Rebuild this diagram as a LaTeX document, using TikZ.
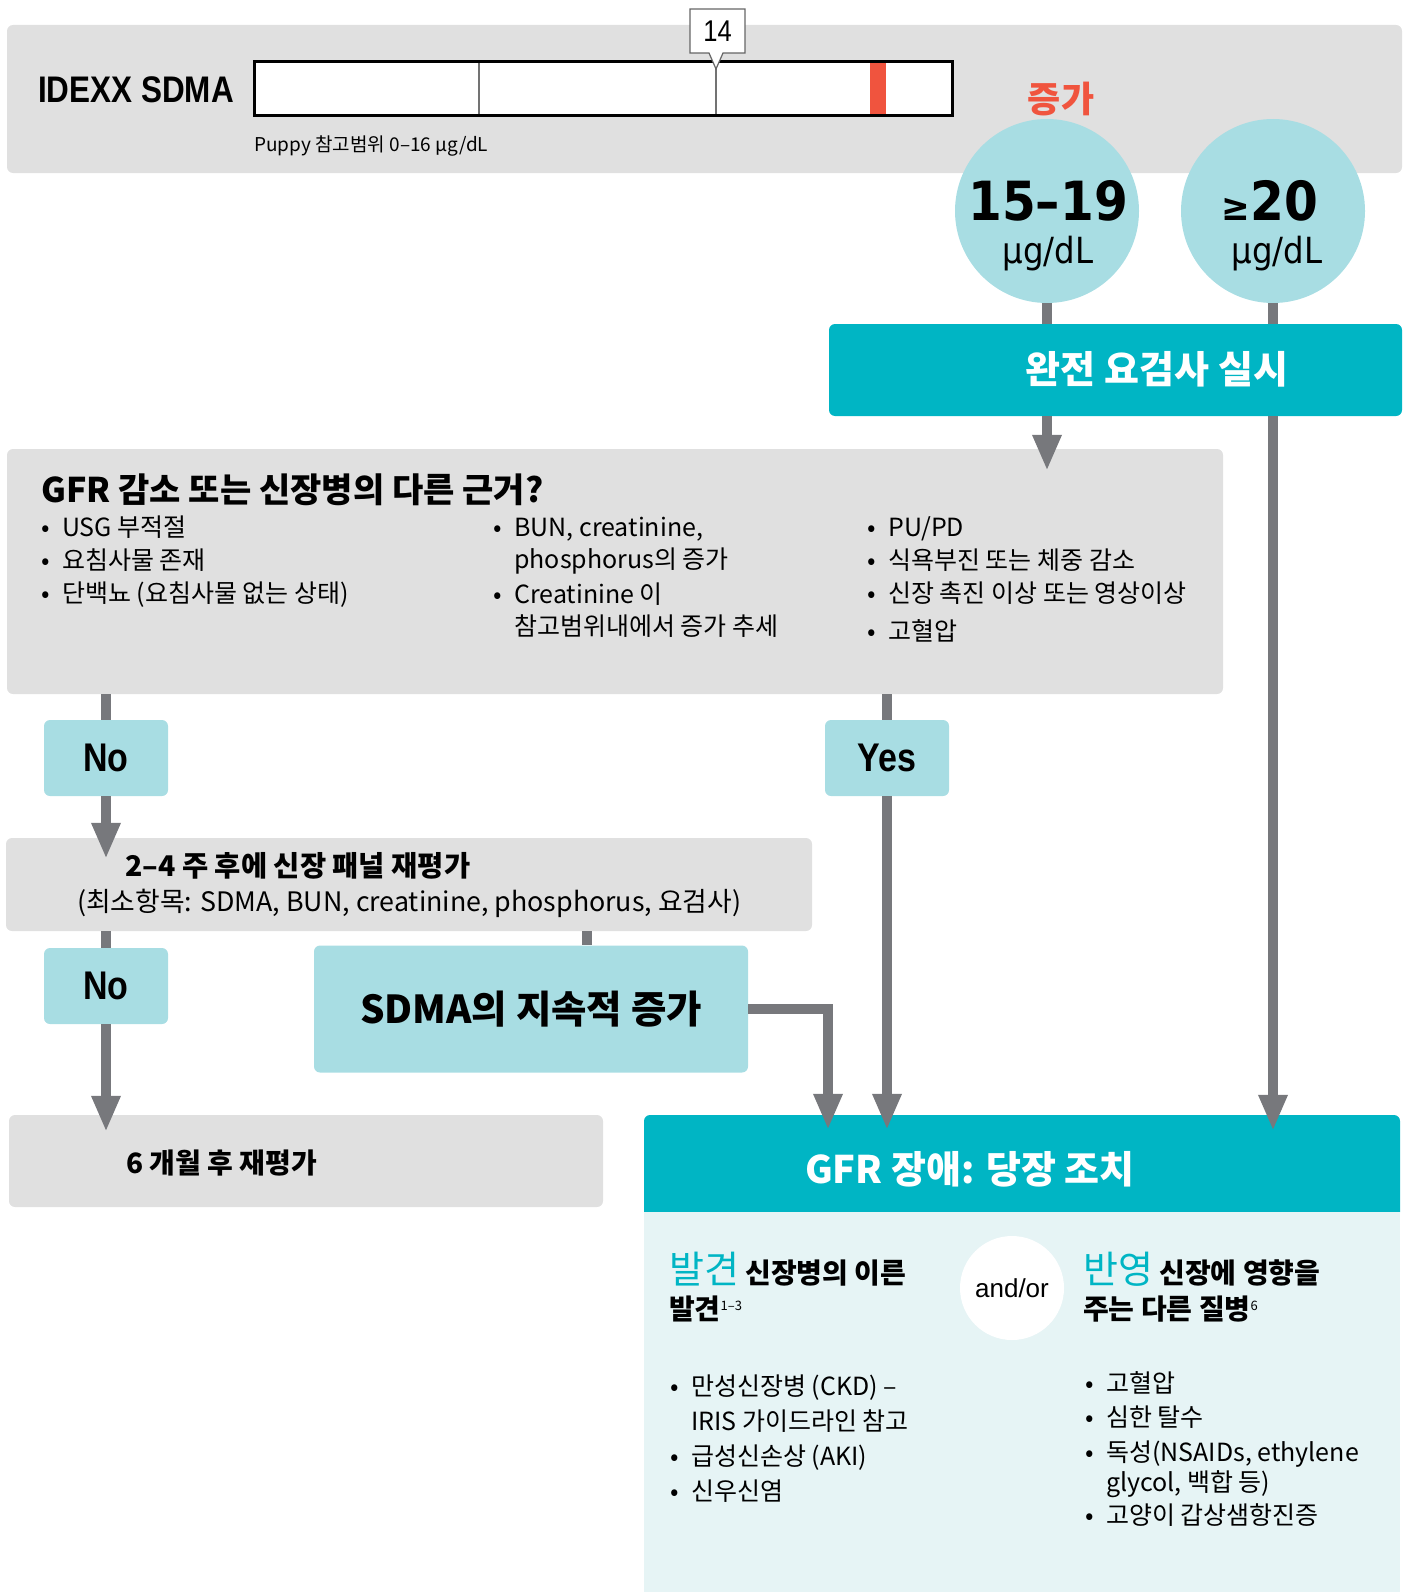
\documentclass[tikz,border=0pt]{standalone}
\usepackage{fontspec}
\setmainfont{Noto Sans CJK KR}
\newfontfamily\narrowfont{Liberation Sans}[FakeStretch=0.85]
\newfontfamily\arialfont{Liberation Sans}
\newfontfamily\verdfont{DejaVu Sans}[FakeStretch=0.9]
\usepackage{tikz}
\usetikzlibrary{arrows.meta,shapes.geometric}
\definecolor{boxgrey}{RGB}{224,224,224}
\definecolor{lblue}{RGB}{168,221,227}
\definecolor{idexxteal}{RGB}{0,181,196}
\definecolor{linegrey}{RGB}{119,120,124}
\definecolor{paleblue}{RGB}{230,244,245}
\definecolor{alertred}{RGB}{240,84,62}
\newcommand{\setfs}[2]{\fontsize{#1}{#2}\selectfont}
\newcommand{\bulitem}{\makebox[21pt][l]{•}}
\newcommand{\bulcont}{\hspace*{21pt}}
\tikzstyle{txt}=[inner sep=0pt]
\tikzstyle{greybox}=[rectangle,fill=boxgrey,rounded corners=6pt,inner sep=0pt]
\tikzstyle{bluebox}=[rectangle,fill=lblue,rounded corners=6pt,inner sep=0pt]
\tikzstyle{tealbox}=[rectangle,fill=idexxteal,rounded corners=6pt,inner sep=0pt]
\tikzstyle{answer}=[bluebox,minimum width=124pt,minimum height=76pt,font=\narrowfont\bfseries\setfs{40}{40}]
\tikzstyle{level}=[circle,fill=lblue,minimum size=184pt,inner sep=0pt]
\tikzstyle{gauge}=[rectangle,fill=white,draw=black,line width=3pt,inner sep=0pt]
\tikzstyle{body}=[inner sep=0pt,align=left,anchor=north west,font=\setfs{25}{33}]
\tikzstyle{link}=[-,draw=linegrey,line width=10pt]
\tikzstyle{flow}=[link,-{Triangle[width=27pt,length=36pt]}]
\pgfdeclarelayer{edgelayer}
\pgfdeclarelayer{nodelayer}
\pgfsetlayers{nodelayer,edgelayer,main}
\begin{document}
\begin{tikzpicture}[x=1pt,y=-1pt]
	\useasboundingbox (0,0) rectangle (1409,1592);
	\begin{pgfonlayer}{nodelayer}
		% result scale
		\node [style=greybox, minimum width=1395pt, minimum height=148pt] (bar) at (704.5,99) {};
		\node [style=txt, anchor=west, font=\narrowfont\bfseries\setfs{37}{37}] (idexx) at (38,90) {IDEXX SDMA};
		\node [style=gauge, minimum width=698pt, minimum height=54pt] (ruler) at (603,89) {};
		\fill [alertred] (870,63.5) rectangle (886,114.5);
		\draw [black!55, line width=1.5pt] (479,63.5) -- (479,114.5);
		\draw [black!55, line width=1.5pt] (716,63.5) -- (716,114.5);
		\draw [fill=white, draw=black!60, line width=1.2pt] (690,9) -- (745,9) -- (745,53) -- (723,53) -- (716,69) -- (709,53) -- (690,53) -- cycle;
		\node [style=txt, font=\narrowfont\setfs{30}{30}] (val) at (717.5,31) {14};
		\node [style=txt, anchor=west, font=\setfs{19}{19}] (range) at (254,146) {Puppy 참고범위 0–16 μg/dL};
		\node [style=txt, text=alertred, font=\bfseries\setfs{36}{36}] (rise) at (1061,99) {증가};
		\node [style=level] (c1) at (1047,211) {};
		\node [style=level] (c2) at (1273,211) {};
		\node [style=txt, anchor=base, font=\verdfont\bfseries\setfs{54}{54}] (c1val) at (1048,220) {15–19};
		\node [style=txt, anchor=base, font=\verdfont\setfs{36}{36}] (c1unit) at (1048,263) {μg/dL};
		\node [style=txt, anchor=base, font=\verdfont\bfseries\setfs{54}{54}] (c2val) at (1270,220) {{\setfs{38}{38}≥}20};
		\node [style=txt, anchor=base, font=\verdfont\setfs{36}{36}] (c2unit) at (1277,263) {μg/dL};
		\node [style=tealbox, minimum width=573pt, minimum height=92pt] (urine) at (1115.5,370) {};
		\node [style=txt, text=white, font=\bfseries\setfs{38}{38}] (urinetxt) at (1157,369) {완전 요검사 실시};
		% evidence question
		\node [style=greybox, minimum width=1216pt, minimum height=245pt] (gfrq) at (615,571.5) {};
		\node [style=txt, anchor=base west, font=\bfseries\setfs{34}{34}] (gfrtitle) at (41,502) {GFR 감소 또는 신장병의 다른 근거?};
		\node [style=body] (gfrc1) at (41,516) {\bulitem USG 부적절\\ \bulitem 요침사물 존재\\ \bulitem 단백뇨 (요침사물 없는 상태)};
		\node [style=body, font=\setfs{25}{32}] (gfrc2) at (493,517) {\bulitem BUN, creatinine,\\ \bulcont phosphorus의 증가\\[3pt] \bulitem Creatinine 이\\ \bulcont 참고범위내에서 증가 추세};
		\node [style=body] (gfrc3) at (867,516) {\bulitem PU/PD\\ \bulitem 식욕부진 또는 체중 감소\\ \bulitem 신장 촉진 이상 또는 영상이상\\[5pt] \bulitem 고혈압};
		\node [style=answer] (no1) at (106,758) {No};
		\node [style=answer] (yes) at (887,758) {Yes};
		% recheck
		\node [style=greybox, minimum width=806pt, minimum height=93pt] (recheck) at (409,884.5) {};
		\node [style=txt, anchor=base west, font=\bfseries\setfs{28.5}{28.5}] (recheck1) at (125,876) {2–4 주 후에 신장 패널 재평가};
		\node [style=txt, anchor=base west, font=\setfs{26.8}{27}] (recheck2) at (77,911) {(최소항목: SDMA, BUN, creatinine, phosphorus, 요검사)};
		\node [style=answer] (no2) at (106,986) {No};
		\node [style=bluebox, minimum width=434pt, minimum height=127pt, font=\bfseries\setfs{38.5}{38.5}] (persist) at (531,1009) {SDMA의 지속적 증가};
		\node [style=greybox, minimum width=594pt, minimum height=92pt] (sixm) at (306,1161) {};
		\node [style=txt, anchor=base west, font=\bfseries\setfs{28}{28}] (sixmtxt) at (126,1173) {6 개월 후 재평가};
		% action
		\node [style=tealbox, minimum width=756pt, minimum height=103pt] (acthead) at (1022,1166.5) {};
		\node [rectangle, fill=paleblue, minimum width=756pt, minimum height=380pt, inner sep=0pt] (actbody) at (1022,1402) {};
		\node [style=txt, anchor=base, text=white, font=\bfseries\setfs{38}{38}] (acttxt) at (970,1183) {GFR 장애: 당장 조치};
		\node [circle, fill=white, minimum size=104pt, inner sep=0pt, font=\arialfont\setfs{26}{26}] (andor) at (1012,1288) {and/or};
		\node [style=body, font=\setfs{28}{36}] (find) at (669,1252) {{\color{idexxteal}\setfs{38}{36}발견} \textbf{신장병의 이른}\\ \textbf{발견}\raisebox{9pt}{\setfs{13}{13}1–3}};
		\node [style=body, font=\setfs{28}{36}] (reflect) at (1083,1252) {{\color{idexxteal}\setfs{38}{36}반영} \textbf{신장에 영향을}\\ \textbf{주는 다른 질병}\raisebox{9pt}{\setfs{13}{13}6}};
		\node [style=body, font=\setfs{25}{35}] (findlist) at (670,1375) {\bulitem 만성신장병 (CKD) –\\ \bulcont IRIS 가이드라인 참고\\ \bulitem 급성신손상 (AKI)\\ \bulitem 신우신염};
		\node [style=body, font=\setfs{25}{33}] (reflectlist) at (1085,1371) {\bulitem 고혈압\\[1pt] \bulitem 심한 탈수\\[2pt] \bulitem 독성(NSAIDs, ethylene\\[-3pt] \bulcont glycol, 백합 등)\\ \bulitem 고양이 갑상샘항진증};
	\end{pgfonlayer}
	\begin{pgfonlayer}{edgelayer}
		\draw [style=link] (c1) -- (c1 |- urine.north);
		\draw [style=link] (c2) -- (c2 |- urine.north);
		\draw [style=flow] (c1 |- urine.south) -- ([yshift=-22pt]c1 |- gfrq.north);
		\draw [style=flow] (c2 |- urine.south) -- ([yshift=-16pt]c2 |- acthead.north);
		\draw [style=link] (gfrq.south -| no1) -- (no1.north);
		\draw [style=flow] (no1.south) -- ([yshift=-21pt]no1 |- recheck.north);
		\draw [style=link] (gfrq.south -| yes) -- (yes.north);
		\draw [style=flow] (yes.south) -- ([yshift=-15pt]yes |- acthead.north);
		\draw [style=link] (recheck.south -| no2) -- (no2.north);
		\draw [style=flow] (no2.south) -- ([yshift=-17pt]no2 |- sixm.north);
		\draw [style=link] ([xshift=56pt]persist.north |- recheck.south) -- ([xshift=56pt]persist.north);
		\draw [style=flow] (persist.east) -| ([xshift=-194pt,yshift=-15pt]acthead.north);
	\end{pgfonlayer}
\end{tikzpicture}
\end{document}
